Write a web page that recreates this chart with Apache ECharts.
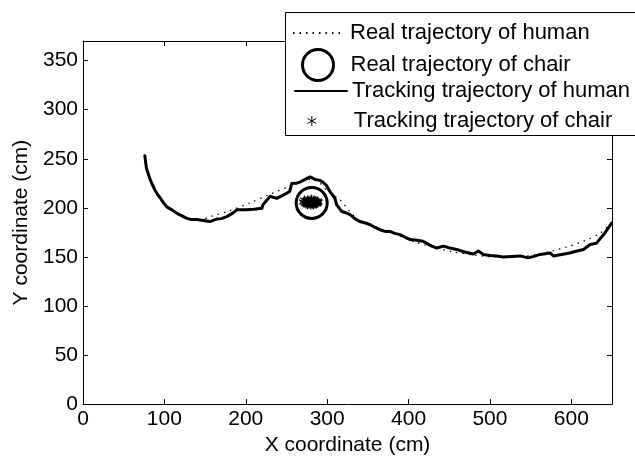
<!DOCTYPE html>
<html>
<head>
<meta charset="utf-8">
<script src="https://cdn.jsdelivr.net/npm/echarts@6/dist/echarts.min.js"></script>
<style>html,body{margin:0;padding:0;background:#fff}#c{width:635px;height:461px}</style>
</head>
<body>
<div id="c"></div>
<script>
// ---- data ----
const seriesNames = ['Real trajectory of human', 'Real trajectory of chair', 'Tracking trajectory of human', 'Tracking trajectory of chair'];
const xName = 'X coordinate (cm)';
const yName = 'Y coordinate (cm)';
const xRange = [0, 650];
const yRange = [0, 370];
const xStep = 100;
const yStep = 50;

const realHuman = [[77,252],[79,238],[84,226],[91,214],[100,204],[112,196],[125,190],[140,187],[160,192],[180,197],[205,205],[230,214],[254,222],[267,227],[280,229],[290,226],[299,218],[316,208],[328,196],[340,187],[365,179],[385,173],[405,166],[430,160],[455,155],[480,152],[505,150],[530,150],[555,152],[576,156],[594,160],[615,166],[635,174],[650,185]];

const trackHuman = [[76,253],[77,246],[78,240],[80,235],[82,230],[85,224],[88.5,218],[92,213],[95,210],[99,205],[103,201],[109,198],[115,194.6],[121,192],[127,189.5],[133,188],[140,188],[148,187],[156,186],[164,188.5],[170,189],[176.6,191],[184,194.6],[189,198],[200,198],[210,198.5],[220,199.6],[221,203],[225,207],[230,211.7],[238,209.7],[246,213],[254,216.7],[256.5,224.8],[262,225],[267,226.5],[273,229],[279,231.5],[285,229],[291,228],[295,226],[299,223],[303.5,216.5],[309.6,209.7],[311.7,203],[318,196.3],[323,195],[328,193],[334,189],[340,186],[347,184.5],[353,182.8],[359,180],[365,177.7],[371,176],[377,176],[383,174],[389.5,172.7],[396,170],[402,167.7],[410,167],[418,166],[426,162],[434.6,159],[443,161],[451,159],[459,157.6],[469,155],[479.6,153],[485.8,156],[492,152.5],[500,151.5],[508,151],[516.5,150],[527,150.5],[537,151],[547,149],[554,150.5],[561.6,152.5],[574,154],[578,151],[588,152.5],[598,154],[607,156],[615,157.6],[623,162.6],[631,164],[640,173],[649.6,184.5]];

const realChair = [[281,205]];

const trackChair = [[271,206],[272,208],[273,205],[274,204],[274,207],[275,206],[276,203],[276,208],[277,205],[277,207],[278,204],[278,206],[279,208],[279,205],[280,203],[280,207],[281,205],[281,209],[282,204],[282,206],[283,207],[283,203],[284,205],[284,208],[285,206],[285,204],[286,207],[286,205],[287,206],[287,204],[288,205],[288,207],[289,206]];

// ---- chart ----
const FONT = 'Liberation Sans, Arial, Helvetica, sans-serif';
const AX_FS = 21;
const LG_FS = 22;
const asterisk = 'path://M0,-10L0,10M-8.66,-5L8.66,5M-8.66,5L8.66,-5';
const chart = echarts.init(document.getElementById('c'), null, {renderer: 'canvas'});

const baseAxis = {
  type: 'value',
  axisLine: {show: true, onZero: false, lineStyle: {color: '#000', width: 1}},
  axisTick: {show: true, inside: true, length: 5, lineStyle: {color: '#000', width: 1}},
  splitLine: {show: false},
  axisLabel: {show: false}
};
const labelStyle = {show: true, color: '#000', fontSize: AX_FS, fontFamily: FONT, showMaxLabel: false};

const legendBase = {
  orient: 'horizontal', padding: 0, selectedMode: false, z: 20,
  textStyle: {color: '#000', fontSize: LG_FS, fontFamily: FONT}
};
const noMarker = {color: 'rgba(0,0,0,0)', borderColor: 'rgba(0,0,0,0)', borderWidth: 0, opacity: 0};

chart.setOption({
  animation: false,
  backgroundColor: '#fff',
  grid: {left: 83, right: 23, top: 41, bottom: 53, containLabel: false},
  xAxis: [
    Object.assign({}, baseAxis, {position: 'bottom', min: xRange[0], max: xRange[1], interval: xStep,
      axisLabel: Object.assign({}, labelStyle, {margin: 5}),
      name: xName, nameLocation: 'middle', nameGap: 28,
      nameTextStyle: {color: '#000', fontSize: AX_FS, fontFamily: FONT}}),
    Object.assign({}, baseAxis, {position: 'top', min: xRange[0], max: xRange[1], interval: xStep})
  ],
  yAxis: [
    Object.assign({}, baseAxis, {position: 'left', min: yRange[0], max: yRange[1], interval: yStep,
      axisLabel: Object.assign({}, labelStyle, {margin: 5}),
      name: yName, nameLocation: 'middle', nameGap: 50,
      nameTextStyle: {color: '#000', fontSize: AX_FS, fontFamily: FONT}}),
    Object.assign({}, baseAxis, {position: 'right', min: yRange[0], max: yRange[1], interval: yStep})
  ],
  graphic: [{
    type: 'rect', z: 15, left: 285, top: 12,
    shape: {width: 400, height: 123},
    style: {fill: '#fff', stroke: '#000', lineWidth: 1}
  }],
  legend: [
    Object.assign({}, legendBase, {data: [seriesNames[0]], left: 292, top: 22, itemWidth: 52, itemHeight: 14,
      itemStyle: noMarker}),
    Object.assign({}, legendBase, {data: [seriesNames[1]], left: 301, top: 48, itemWidth: 31, itemHeight: 31,
      itemStyle: {color: 'rgba(0,0,0,0)', borderColor: '#000', borderWidth: 3, opacity: 1},
      textStyle: Object.assign({}, legendBase.textStyle, {padding: [0, 0, 0, 12]})}),
    Object.assign({}, legendBase, {data: [seriesNames[2]], left: 294, top: 80, itemWidth: 52, itemHeight: 14,
      itemStyle: noMarker}),
    Object.assign({}, legendBase, {data: [seriesNames[3]], left: 307, top: 110, itemWidth: 10, itemHeight: 10,
      itemStyle: {color: 'rgba(0,0,0,0)', borderColor: '#000', borderWidth: 1, opacity: 1},
      textStyle: Object.assign({}, legendBase.textStyle, {padding: [0, 0, 0, 32]})})
  ],
  series: [
    {name: seriesNames[0], type: 'line', data: realHuman, symbol: 'none', smooth: 0.3,
      itemStyle: {color: '#000'},
      lineStyle: {color: '#000', width: 1.2, type: [1.5, 5]}, z: 2},
    {name: seriesNames[2], type: 'line', data: trackHuman, symbol: 'none',
      itemStyle: {color: '#000'},
      lineStyle: {color: '#000', width: 3, join: 'round', cap: 'round'}, z: 3},
    {name: seriesNames[1], type: 'scatter', data: realChair, symbol: 'circle', symbolSize: 31,
      itemStyle: {color: 'rgba(0,0,0,0)', borderColor: '#000', borderWidth: 3, opacity: 1}, z: 4},
    {name: seriesNames[3], type: 'scatter', data: trackChair, symbol: asterisk, symbolSize: 9,
      itemStyle: {color: 'rgba(0,0,0,0)', borderColor: '#000', borderWidth: 1.2, opacity: 1}, z: 5}
  ]
});
</script>
</body>
</html>
